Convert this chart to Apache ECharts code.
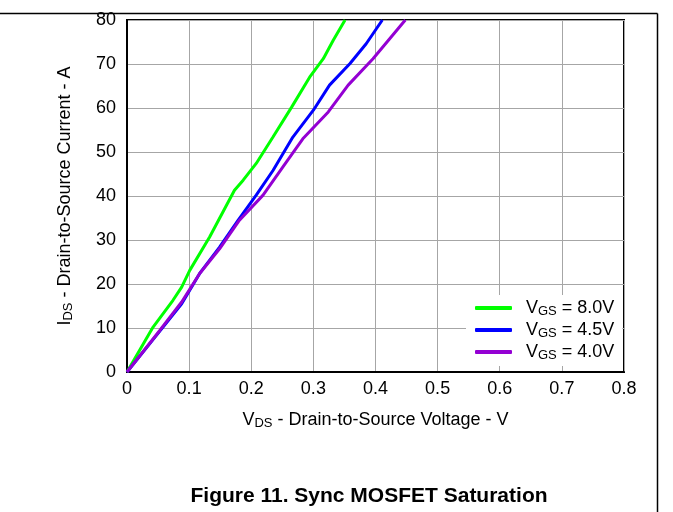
<!DOCTYPE html>
<html>
<head>
<meta charset="utf-8">
<script src="https://cdn.jsdelivr.net/npm/echarts@6/dist/echarts.min.js"></script>
<style>
html,body{margin:0;padding:0;background:#fff;}
#c{width:673px;height:512px;}
</style>
</head>
<body>
<div id="c"></div>
<script>
// Data (VDS in V, IDS in A)
const vgs80_x = [0, 0.042, 0.074, 0.088, 0.101, 0.133, 0.173, 0.187, 0.208, 0.235, 0.265, 0.294, 0.316, 0.332, 0.351];
const vgs80_y = [0, 10.2, 16.3, 19.3, 23.1, 30.7, 41.3, 43.6, 47.4, 53.4, 60.2, 67.0, 71.2, 75.4, 80.0];
const vgs45_x = [0, 0.058, 0.088, 0.117, 0.149, 0.179, 0.208, 0.235, 0.251, 0.267, 0.300, 0.326, 0.359, 0.385, 0.411];
const vgs45_y = [0, 10.2, 15.5, 22.4, 28.4, 34.5, 40.2, 45.8, 49.6, 53.4, 59.5, 65.2, 70.1, 74.6, 80.0];
const vgs40_x = [0, 0.053, 0.088, 0.117, 0.149, 0.181, 0.219, 0.251, 0.283, 0.324, 0.356, 0.396, 0.448];
const vgs40_y = [0, 9.5, 15.9, 22.4, 28.0, 34.5, 40.2, 46.6, 53.0, 59.1, 65.2, 71.2, 80.0];
const seriesNames = ['8.0V', '4.5V', '4.0V'];
const xTicks = [0, 0.1, 0.2, 0.3, 0.4, 0.5, 0.6, 0.7, 0.8];
const yTicks = [0, 10, 20, 30, 40, 50, 60, 70, 80];

const colors = ['#00ff00', '#0000ff', '#9400d3'];
const zip = (xs, ys) => xs.map((x, i) => [x, ys[i]]);
const dataSets = [zip(vgs80_x, vgs80_y), zip(vgs45_x, vgs45_y), zip(vgs40_x, vgs40_y)];
const font = 'Liberation Sans, Arial, sans-serif';
const rich = {
  a: {fontFamily: font, fontSize: 18, color: '#000'},
  p: {fontFamily: font, fontSize: 18, color: '#000', padding: [0, 0, 0, 9]},
  b: {fontFamily: font, fontSize: 13, color: '#000', verticalAlign: 'bottom', padding: [7, 0, 0, 0]}
};

const chart = echarts.init(document.getElementById('c'), null, {renderer: 'canvas'});
chart.setOption({
  animation: false,
  backgroundColor: '#fff',
  grid: {left: 127, right: 49, top: 20, bottom: 140, show: true, borderColor: '#000', borderWidth: 2, backgroundColor: 'transparent'},
  xAxis: {
    type: 'value', min: xTicks[0], max: xTicks[xTicks.length - 1], interval: 0.1,
    axisLine: {show: true, lineStyle: {color: '#000', width: 2}},
    axisTick: {show: false},
    splitLine: {show: true, lineStyle: {color: '#a6a6a6', width: 1}},
    axisLabel: {color: '#000', fontFamily: font, fontSize: 18, margin: 8, formatter: v => String(Math.round(v * 10) / 10)},
    name: '{a|V}{b|DS}{a| - Drain-to-Source Voltage - V}',
    nameLocation: 'middle', nameGap: 38,
    nameTextStyle: {rich: rich}
  },
  yAxis: {
    type: 'value', min: yTicks[0], max: yTicks[yTicks.length - 1], interval: 10,
    axisLine: {show: true, lineStyle: {color: '#000', width: 2}},
    axisTick: {show: false},
    splitLine: {show: true, lineStyle: {color: '#a6a6a6', width: 1}},
    axisLabel: {color: '#000', fontFamily: font, fontSize: 18, margin: 11},
    name: '{a|I}{b|DS}{a| - Drain-to-Source Current - A}',
    nameLocation: 'middle', nameGap: 52, nameRotate: 90,
    nameTextStyle: {rich: rich}
  },
  legend: {
    orient: 'vertical', left: 466, top: 295,
    backgroundColor: '#fff', padding: [4, 8, 4, 9],
    itemWidth: 37, itemHeight: 4, itemGap: 3,
    icon: 'roundRect',
    data: seriesNames,
    formatter: n => '{p|V}{b|GS}{a| = ' + n + '}',
    textStyle: {rich: rich}
  },
  title: {
    text: 'Figure 11. Sync MOSFET Saturation',
    left: 364, textAlign: 'center', top: 481,
    textStyle: {fontFamily: font, fontSize: 21, fontWeight: 'bold', color: '#000'}
  },
  graphic: [
    {type: 'line', shape: {x1: 0, y1: 13.5, x2: 657.5, y2: 13.5}, style: {stroke: '#000', lineWidth: 1.5}},
    {type: 'line', shape: {x1: 657.5, y1: 13.5, x2: 657.5, y2: 512}, style: {stroke: '#000', lineWidth: 1.5}}
  ],
  series: seriesNames.map((n, i) => ({
    name: n, type: 'line', data: dataSets[i], showSymbol: false, symbol: 'none',
    lineStyle: {color: colors[i], width: 3}, itemStyle: {color: colors[i]}, clip: true
  }))
});
</script>
</body>
</html>
